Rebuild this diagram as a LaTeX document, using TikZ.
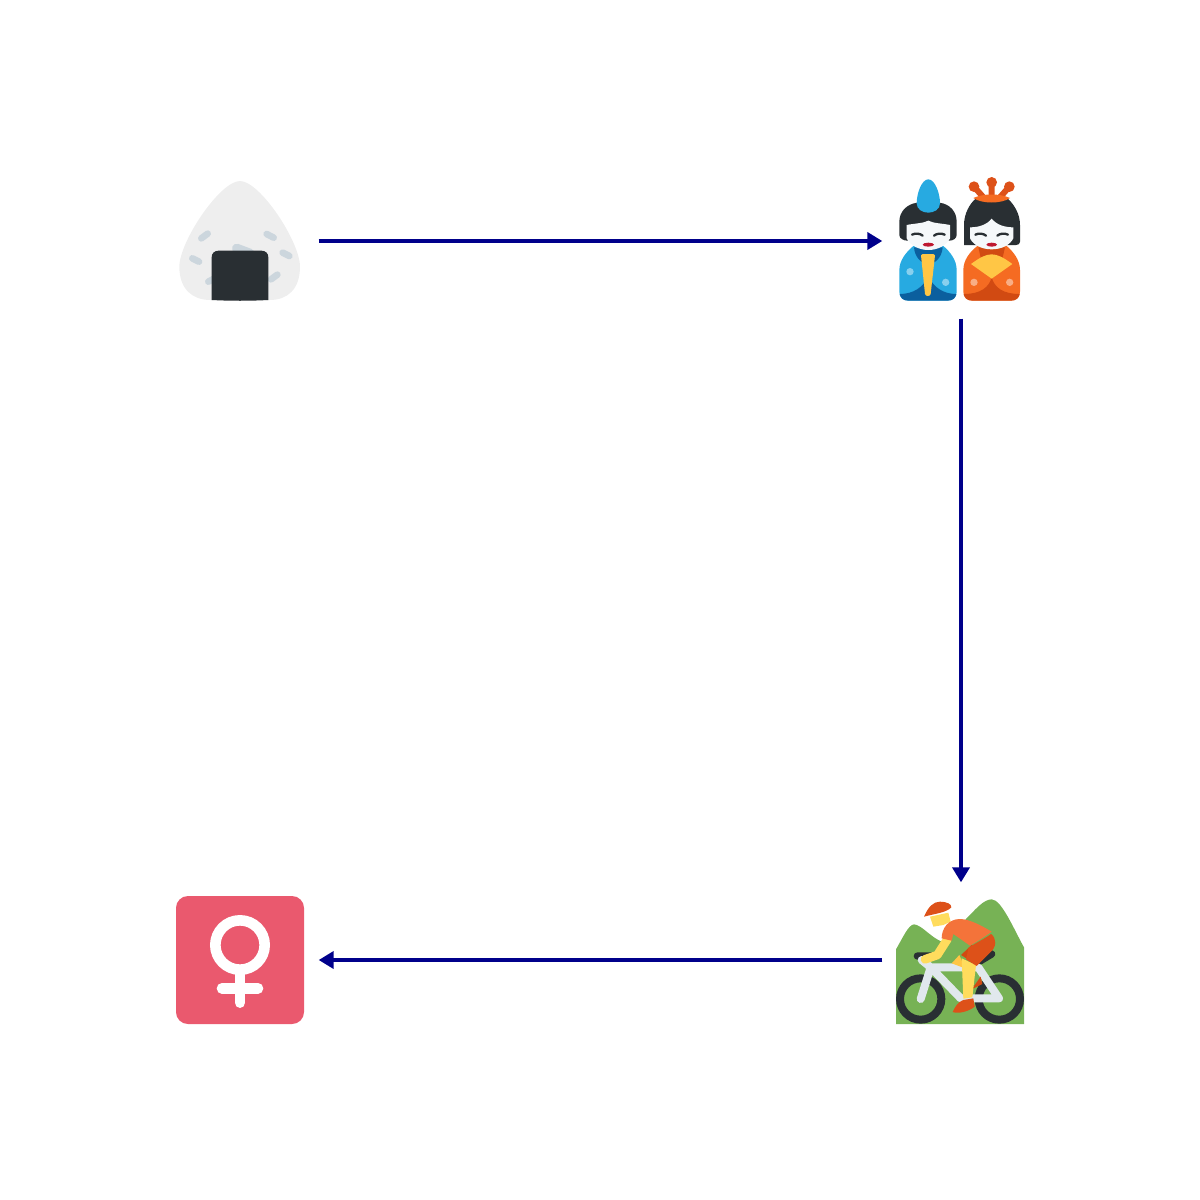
\documentclass[tikz,border=0pt]{standalone}
\usetikzlibrary{arrows.meta}

\definecolor{linkblue}{HTML}{00008B}
\definecolor{ink}{HTML}{292F33}
\definecolor{ricewhite}{HTML}{EEEEEE}
\definecolor{grain}{HTML}{CCD6DD}
\definecolor{skywhite}{HTML}{F5F8FA}
\definecolor{robeblue}{HTML}{27AAE1}
\definecolor{deepblue}{HTML}{0B5F9E}
\definecolor{robeorange}{HTML}{F56B22}
\definecolor{deeporange}{HTML}{DD5119}
\definecolor{rustorange}{HTML}{D14A12}
\definecolor{fanyellow}{HTML}{FFC645}
\definecolor{lipred}{HTML}{BE1931}
\definecolor{hill}{HTML}{77B255}
\definecolor{frame}{HTML}{E1E8ED}
\definecolor{skin}{HTML}{FFDC5D}
\definecolor{shirt}{HTML}{F4733A}
\definecolor{signred}{HTML}{EA596E}

\def\zu{0.189pt}

\tikzset{
  iconbox/.style = {minimum size = 158*0.5669pt, inner sep = 0pt, outer sep = 0pt},
  flowarrow/.style = {draw = linkblue, line width = 4*0.5669pt,
                      -{Triangle[length = 15*0.5669pt, width = 17*0.5669pt]}},
  zoomed/.style = {shift = {(-70,-70)}, scale = 1/3},
  grainline/.style = {draw = grain, line cap = round, line width = 20*\zu},
  eyeline/.style = {draw = ink, line cap = round, line width = 7*\zu},
  barline/.style = {draw = frame, line cap = round, line join = round, line width = 24*\zu},
  pics/riceball/.style = {code = {
    \begin{scope}[zoomed]
      \fill[ricewhite] (210,33) .. controls (150,33) and (28,215) .. (28,290)
        .. controls (28,360) and (70,390) .. (120,390) -- (300,390)
        .. controls (350,390) and (390,360) .. (390,290)
        .. controls (390,215) and (270,33) .. (210,33) -- cycle;
      \draw[grainline] (94,205) -- (113,191);
      \draw[grainline] (67,265) -- (87,275);
      \draw[grainline] (290,192) -- (311,203);
      \draw[grainline] (338,248) -- (358,258);
      \draw[grainline] (115,335) -- (130,327);
      \draw[grainline] (303,328) -- (322,314);
      \draw[grainline, line width = 28*\zu] (200,235) -- (240,250);
      \fill[ink] (125,390) -- (125,262) .. controls (125,250) and (133,242) .. (146,242)
        -- (274,242) .. controls (287,242) and (295,250) .. (295,262) -- (295,390)
        .. controls (240,393) and (180,393) .. (125,390) -- cycle;
    \end{scope}
  }},
  pics/dolls/.style = {code = {
    \begin{scope}[zoomed]
      % man
      \fill[ink] (82,98) .. controls (50,102) and (28,125) .. (28,155) -- (28,195)
        .. controls (28,205) and (40,212) .. (52,212) -- (178,212)
        .. controls (190,212) and (200,205) .. (200,195) -- (200,155)
        .. controls (200,125) and (180,102) .. (148,98) -- cycle;
      \fill[robeblue] (115,28) .. controls (95,28) and (80,70) .. (80,100)
        .. controls (80,118) and (98,128) .. (115,128)
        .. controls (132,128) and (150,118) .. (150,100)
        .. controls (150,70) and (135,28) .. (115,28) -- cycle;
      \fill[robeblue] (28,300) .. controls (28,270) and (50,245) .. (70,228) -- (160,228)
        .. controls (180,245) and (200,270) .. (200,300) -- (200,365)
        .. controls (200,382) and (190,392) .. (172,392) -- (56,392)
        .. controls (38,392) and (28,382) .. (28,365) -- cycle;
      \fill[deepblue] (29,372) .. controls (70,372) and (100,352) .. (115,318)
        .. controls (130,352) and (160,372) .. (199,372)
        .. controls (196,385) and (188,392) .. (172,392) -- (56,392)
        .. controls (40,392) and (32,385) .. (29,372) -- cycle;
      \fill[deepblue] (72,232) .. controls (74,262) and (95,282) .. (115,282)
        .. controls (135,282) and (156,262) .. (158,232) -- cycle;
      \fill[skywhite] (50,165) .. controls (75,160) and (100,160) .. (115,152)
        .. controls (130,160) and (155,160) .. (180,165) -- (180,205)
        .. controls (170,225) and (145,240) .. (115,240)
        .. controls (85,240) and (60,225) .. (50,205) -- cycle;
      \draw[eyeline] (66,194) .. controls (76,189) and (90,190) .. (98,197);
      \draw[eyeline] (132,197) .. controls (140,190) and (154,189) .. (164,194);
      \fill[lipred] (115,224) ellipse (17 and 6);
      \fill[fanyellow] (93,256) .. controls (93,253) and (95,252) .. (98,252) -- (130,252)
        .. controls (133,252) and (135,253) .. (135,256) -- (122,372)
        .. controls (120,380) and (107,380) .. (105,372) -- cycle;
      \fill[robeblue!55!white] (60,305) circle (11);
      \fill[robeblue!55!white] (167,337) circle (11);
      % woman
      \fill[ink] (222,225) -- (222,165) .. controls (222,130) and (240,100) .. (258,85)
        -- (352,85) .. controls (370,100) and (390,130) .. (390,165) -- (390,215)
        .. controls (390,222) and (385,225) .. (378,225) -- cycle;
      \draw[deeporange, line width = 18*\zu] (252,50) -- (282,84) (305,37) -- (305,84) (358,50) -- (328,84);
      \fill[deeporange] (252,50) circle (16) (305,37) circle (16) (358,50) circle (16);
      \fill[robeorange] (250,84) .. controls (280,70) and (330,70) .. (360,84)
        .. controls (335,102) and (275,102) .. (250,84) -- cycle;
      \fill[robeorange] (220,300) .. controls (220,270) and (240,245) .. (262,228) -- (350,228)
        .. controls (370,245) and (390,270) .. (390,300) -- (390,365)
        .. controls (390,382) and (380,392) .. (362,392) -- (248,392)
        .. controls (230,392) and (220,382) .. (220,365) -- cycle;
      \fill[rustorange] (221,372) .. controls (272,372) and (297,352) .. (305,322)
        .. controls (313,352) and (338,372) .. (389,372)
        .. controls (386,385) and (378,392) .. (362,392) -- (248,392)
        .. controls (232,392) and (224,385) .. (221,372) -- cycle;
      \fill[rustorange] (265,232) -- (345,232) -- (335,275) -- (275,275) -- cycle;
      \fill[skywhite] (240,172) .. controls (265,172) and (290,165) .. (305,146)
        .. controls (320,165) and (345,172) .. (370,172) -- (370,205)
        .. controls (360,225) and (335,238) .. (305,238)
        .. controls (275,238) and (250,225) .. (240,205) -- cycle;
      \draw[eyeline] (256,194) .. controls (266,189) and (280,190) .. (288,197);
      \draw[eyeline] (322,197) .. controls (330,190) and (344,189) .. (354,194);
      \fill[lipred] (305,224) ellipse (16 and 6);
      \fill[fanyellow] (243,282) .. controls (270,262) and (288,253) .. (305,253)
        .. controls (322,253) and (340,262) .. (367,282)
        -- (305,326) -- cycle;
      \fill[robeorange!55!white] (252,337) circle (11);
      \fill[robeorange!55!white] (359,337) circle (11);
    \end{scope}
  }},
  pics/biker/.style = {code = {
    \begin{scope}[zoomed]
      \fill[hill] (18,178) -- (18,402) -- (402,402) -- (402,172)
        .. controls (375,125) and (335,28) .. (305,28)
        .. controls (280,28) and (255,60) .. (225,90)
        -- (155,155) .. controls (120,140) and (95,105) .. (72,103)
        .. controls (55,105) and (40,140) .. (18,178) -- cycle;
      \draw[ink, line width = 24*\zu] (92,327) circle (62) (328,327) circle (62);
      \draw[ink, line width = 22*\zu, line cap = round] (82,198) -- (128,198) (270,213) -- (305,192);
      \draw[barline] (92,327) -- (122,232) -- (265,232) -- (327,325) -- (212,325) -- (122,232) -- (95,210);
      \fill[rustorange] (245,298) -- (272,260) -- (277,282) -- cycle;
      \fill[fanyellow] (185,220) -- (208,195) -- (225,235) -- cycle;
      \fill[skin] (215,205) -- (258,225) -- (247,322) -- (220,326) -- cycle;
      \fill[deeporange] (188,366) .. controls (195,350) and (205,335) .. (220,330)
        -- (250,325) -- (254,350) .. controls (235,365) and (205,372) .. (188,366) -- cycle;
      \draw[skin, line width = 26*\zu, line cap = round, line join = round] (172,148) -- (142,195) -- (105,208);
      \fill[skin] (120,80) -- (175,68) -- (182,95) -- (160,105) -- (130,110) -- cycle;
      \fill[shirt] (155,145) .. controls (155,115) and (175,87) .. (210,87)
        .. controls (240,87) and (280,110) .. (305,125)
        .. controls (285,140) and (260,155) .. (240,167) -- (190,132) -- (185,152) -- cycle;
      \fill[rustorange] (213,195) -- (245,165) -- (262,180) -- (240,212) -- cycle;
      \fill[deeporange] (236,172) .. controls (260,158) and (285,145) .. (303,132)
        .. controls (320,145) and (322,170) .. (298,190) -- (260,228) -- (228,208) -- cycle;
      \fill[deeporange] (102,80) .. controls (115,50) and (130,35) .. (150,35)
        .. controls (170,35) and (185,42) .. (184,52)
        .. controls (170,68) and (130,72) .. (102,80) -- cycle;
    \end{scope}
  }},
  pics/femalesign/.style = {code = {
    \begin{scope}[zoomed]
      \fill[signred, rounded corners = 36*\zu] (18,18) rectangle (402,402);
      \draw[white, line width = 32*\zu] (210,165) circle (74);
      \draw[white, line width = 32*\zu, line cap = round]
        (210,245) -- (210,338) (156,295) -- (264,295);
    \end{scope}
  }},
}

\begin{document}
\begin{tikzpicture}[x = 0.02cm, y = -0.02cm]
  \useasboundingbox (0,0) rectangle (1200,1200);
  \node[iconbox] (rice)  at (240,241) {};
  \node[iconbox] (dolls) at (961,240) {};
  \node[iconbox] (bike)  at (961,961) {};
  \node[iconbox] (venus) at (240,960) {};

  \pic at (240,240) {riceball};
  \pic at (960,240) {dolls};
  \pic at (960,960) {biker};
  \pic at (240,960) {femalesign};

  \draw[flowarrow] (rice) -- (rice -| dolls.west);
  \draw[flowarrow] (dolls) -- (bike);
  \draw[flowarrow] (bike.west |- venus) -- (venus);
\end{tikzpicture}
\end{document}
